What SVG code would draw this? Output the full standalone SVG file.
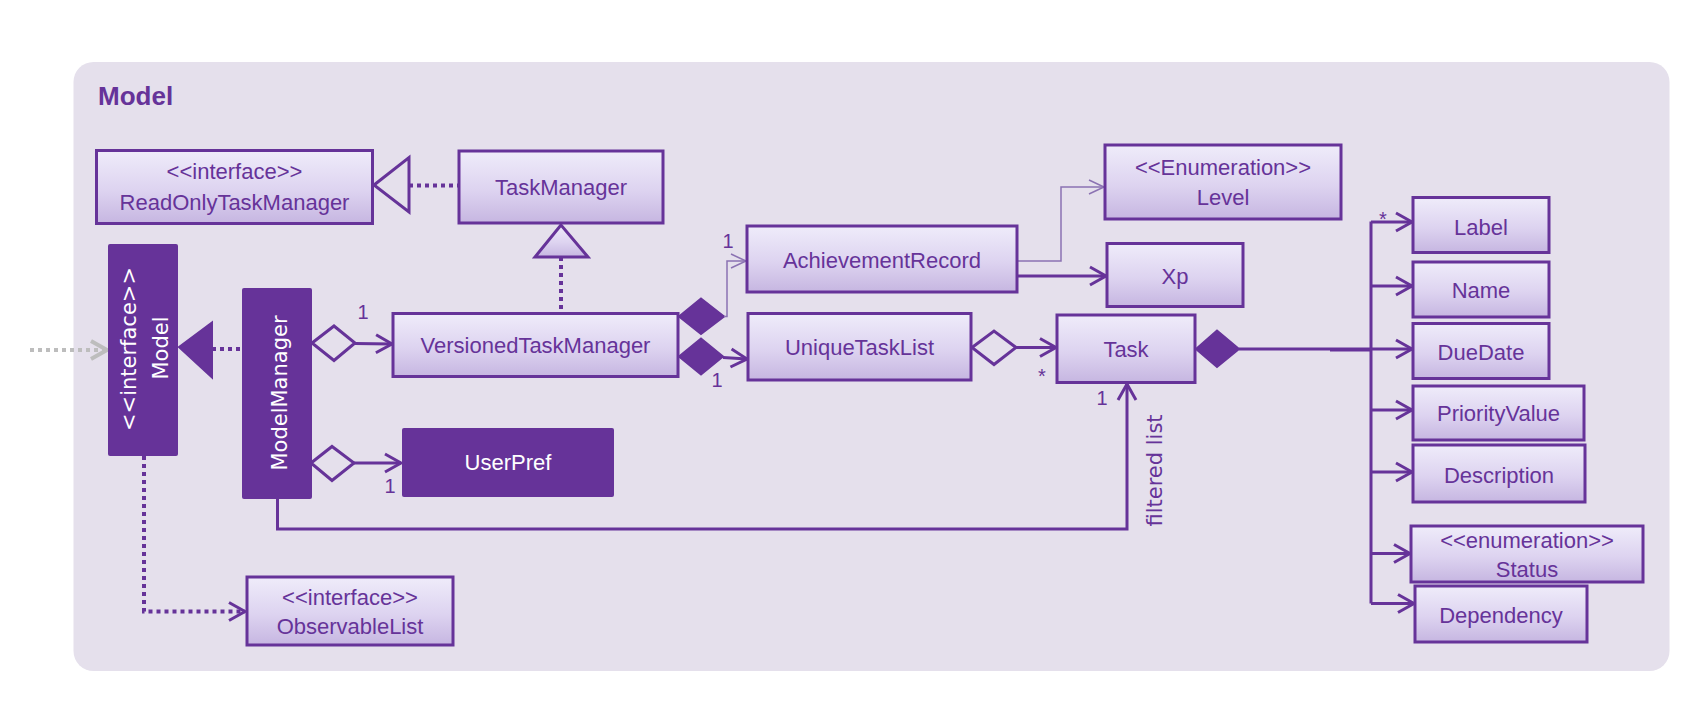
<svg xmlns="http://www.w3.org/2000/svg" width="1692" height="720" viewBox="0 0 1692 720">
<style>
.box{fill:url(#boxg);stroke:#663399;stroke-width:3}
.dark{fill:#663399}
.t{font-family:"Liberation Sans",Arial,sans-serif;font-size:22px;fill:#663399;text-anchor:middle}
.tw{fill:#ffffff}
.rt{font-family:"DejaVu Sans",Verdana,sans-serif;font-size:21px;fill:#ffffff;text-anchor:middle}
.lbl{font-family:"Liberation Sans",Arial,sans-serif;font-size:20px;fill:#663399;text-anchor:middle}
.ln{fill:none;stroke:#663399;stroke-width:3}
.dot{stroke-dasharray:4 4;stroke-width:4}
.thin{stroke:#8B72B2;stroke-width:1.5}
.gray{stroke:#BDBDBD;stroke-dasharray:4 4;stroke-width:4;fill:none}
.fd{fill:#663399;stroke:#663399;stroke-width:2}
.hd{fill:#E5E0EC;stroke:#663399;stroke-width:3}
</style>
<defs>
<linearGradient id="boxg" x1="0" y1="0" x2="0" y2="1">
<stop offset="0" stop-color="#EFECFA"/>
<stop offset="0.55" stop-color="#DDD3F0"/>
<stop offset="1" stop-color="#C6B6E1"/>
</linearGradient>
<marker id="arr" markerUnits="userSpaceOnUse" markerWidth="22" markerHeight="22" refX="17" refY="10" orient="auto" overflow="visible">
<path d="M1,1 L17,10 L1,19" fill="none" stroke="#663399" stroke-width="3"/>
</marker>
<marker id="arrT" markerUnits="userSpaceOnUse" markerWidth="22" markerHeight="22" refX="16" refY="8" orient="auto" overflow="visible">
<path d="M1,1 L16,8 L1,15" fill="none" stroke="#8B72B2" stroke-width="1.5"/>
</marker>
<marker id="arrG" markerUnits="userSpaceOnUse" markerWidth="22" markerHeight="22" refX="17" refY="10" orient="auto" overflow="visible">
<path d="M1,1 L17,10 L1,19" fill="none" stroke="#BDBDBD" stroke-width="4"/>
</marker>
</defs>

<rect x="73.5" y="62" width="1596" height="609" rx="20" fill="#E5E0EC"/>
<text x="98" y="105" font-family="Liberation Sans, Arial, sans-serif" font-size="26" font-weight="bold" fill="#663399">Model</text>

<g id="connectors">
<!-- TaskManager realizes ReadOnlyTaskManager -->
<line class="ln dot" x1="409" y1="185.5" x2="459" y2="185.5"/>
<polygon class="hd" points="374,185 409,157.5 409,212"/>
<!-- VersionedTaskManager extends TaskManager -->
<line class="ln dot" x1="561" y1="257" x2="561" y2="313"/>
<polygon points="561,225 535,257 588,257" fill="url(#boxg)" stroke="#663399" stroke-width="3"/>
<!-- ModelManager realizes Model -->
<line class="ln dot" x1="212" y1="349" x2="242" y2="349"/>
<polygon class="fd" points="179,347 212,322.5 212,377.5"/>
<!-- external gray -->
<line class="gray" x1="30" y1="350" x2="107" y2="350" marker-end="url(#arrG)"/>
<!-- Model to ObservableList -->
<polyline class="ln dot" points="144,456 144,611.5 245,611.5" marker-end="url(#arr)"/>
<!-- ModelManager to VersionedTaskManager -->
<polygon class="hd" points="312,343 334,326 355,343 334,360.5"/>
<line class="ln" x1="355" y1="343.5" x2="392" y2="344" marker-end="url(#arr)"/>
<text class="lbl" x="363" y="319">1</text>
<!-- ModelManager to UserPref -->
<polygon class="hd" points="311,463 332,446.5 354,463 332,480.5"/>
<line class="ln" x1="354" y1="463" x2="401" y2="463" marker-end="url(#arr)"/>
<text class="lbl" x="390" y="493">1</text>
<!-- ModelManager to Task (filtered list) -->
<polyline class="ln" points="277.5,499 277.5,529 1127,529 1127,384" marker-end="url(#arr)"/>
<text class="lbl" x="1102" y="405">1</text>
<text transform="translate(1162,470.5) rotate(-90)" font-family="DejaVu Sans, Verdana, sans-serif" font-size="21" fill="#663399" text-anchor="middle">filtered list</text>
<!-- VersionedTaskManager to AchievementRecord -->
<polygon class="fd" points="679,316.5 701,298.5 724,316.5 701,334"/>
<polyline fill="none" class="thin" points="724,316.5 727,316.5 727,261 746,261" marker-end="url(#arrT)"/>
<text class="lbl" x="728" y="248">1</text>
<!-- VersionedTaskManager to UniqueTaskList -->
<polygon class="fd" points="679,356.5 701,338.5 723,356.5 701,374.5"/>
<line class="ln" x1="723" y1="357.5" x2="747" y2="359" marker-end="url(#arr)"/>
<text class="lbl" x="717" y="387">1</text>
<!-- AchievementRecord to Level -->
<polyline fill="none" class="thin" points="1017,261 1061,261 1061,187 1104,187" marker-end="url(#arrT)"/>
<!-- AchievementRecord to Xp -->
<line class="ln" x1="1017" y1="276" x2="1106" y2="276" marker-end="url(#arr)"/>
<!-- UniqueTaskList to Task -->
<polygon class="hd" points="972,347.5 994,331 1016,347.5 994,364.5"/>
<line class="ln" x1="1016" y1="347.5" x2="1056" y2="347.5" marker-end="url(#arr)"/>
<text class="lbl" x="1042" y="383">*</text>
<!-- Task composition bus -->
<polygon class="fd" points="1196,349 1217,330.5 1239,349 1217,367"/>
<line class="ln" x1="1239" y1="349" x2="1371" y2="349"/>
<line class="ln" x1="1330" y1="350" x2="1371" y2="350" stroke-width="4"/>
<line class="ln" x1="1371" y1="221.5" x2="1371" y2="603.5"/>
<line class="ln" x1="1371" y1="222" x2="1412" y2="222" marker-end="url(#arr)"/>
<text class="lbl" x="1383" y="226">*</text>
<line class="ln" x1="1371" y1="286" x2="1412" y2="286" marker-end="url(#arr)"/>
<line class="ln" x1="1371" y1="349" x2="1412" y2="349" marker-end="url(#arr)"/>
<line class="ln" x1="1371" y1="410" x2="1412" y2="410" marker-end="url(#arr)"/>
<line class="ln" x1="1371" y1="472" x2="1412" y2="472" marker-end="url(#arr)"/>
<line class="ln" x1="1371" y1="553.5" x2="1410" y2="553.5" marker-end="url(#arr)"/>
<line class="ln" x1="1371" y1="603.5" x2="1414" y2="603.5" marker-end="url(#arr)"/>
</g>

<g id="ReadOnlyTaskManager">
<rect class="box" x="96.5" y="150.5" width="276" height="73"/>
<text class="t" x="234.5" y="179">&lt;&lt;interface&gt;&gt;</text>
<text class="t" x="234.5" y="210">ReadOnlyTaskManager</text>
</g>
<g id="TaskManager">
<rect class="box" x="459" y="151" width="204" height="72"/>
<text class="t" x="561" y="195">TaskManager</text>
</g>
<g id="Model">
<rect class="dark" x="108" y="244" width="70" height="212" rx="2"/>
<text class="rt" transform="translate(135.5,349) rotate(-90)">&lt;&lt;interface&gt;&gt;</text>
<text class="rt" transform="translate(167.5,348) rotate(-90)">Model</text>
</g>
<g id="ModelManager">
<rect class="dark" x="242" y="288" width="70" height="211" rx="2"/>
<text class="rt" transform="translate(286.5,393) rotate(-90)">ModelManager</text>
</g>
<g id="VersionedTaskManager">
<rect class="box" x="393" y="313.5" width="285" height="63"/>
<text class="t" x="535.5" y="353">VersionedTaskManager</text>
</g>
<g id="UserPref">
<rect class="dark" x="402" y="428" width="212" height="69" rx="2"/>
<text class="t tw" x="508" y="470">UserPref</text>
</g>
<g id="ObservableList">
<rect class="box" x="247" y="577" width="206" height="68"/>
<text class="t" x="350" y="605">&lt;&lt;interface&gt;&gt;</text>
<text class="t" x="350" y="634">ObservableList</text>
</g>
<g id="AchievementRecord">
<rect class="box" x="747" y="226" width="270" height="66"/>
<text class="t" x="882" y="268">AchievementRecord</text>
</g>
<g id="UniqueTaskList">
<rect class="box" x="748" y="313.5" width="223" height="66.5"/>
<text class="t" x="859.5" y="355">UniqueTaskList</text>
</g>
<g id="Level">
<rect class="box" x="1105" y="145" width="236" height="74"/>
<text class="t" x="1223" y="175">&lt;&lt;Enumeration&gt;&gt;</text>
<text class="t" x="1223" y="205">Level</text>
</g>
<g id="Xp">
<rect class="box" x="1107" y="243.5" width="136" height="63"/>
<text class="t" x="1175" y="284">Xp</text>
</g>
<g id="Task">
<rect class="box" x="1057" y="315" width="138" height="67.5"/>
<text class="t" x="1126" y="357">Task</text>
</g>
<g id="Label">
<rect class="box" x="1413" y="197.5" width="136" height="55"/>
<text class="t" x="1481" y="235">Label</text>
</g>
<g id="Name">
<rect class="box" x="1413" y="262" width="136" height="55"/>
<text class="t" x="1481" y="298">Name</text>
</g>
<g id="DueDate">
<rect class="box" x="1413" y="323.5" width="136" height="55"/>
<text class="t" x="1481" y="360">DueDate</text>
</g>
<g id="PriorityValue">
<rect class="box" x="1413" y="386" width="171" height="54"/>
<text class="t" x="1498.5" y="421">PriorityValue</text>
</g>
<g id="Description">
<rect class="box" x="1413" y="445" width="172" height="57"/>
<text class="t" x="1499" y="483">Description</text>
</g>
<g id="Status">
<rect class="box" x="1411" y="526" width="232" height="56"/>
<text class="t" x="1527" y="548">&lt;&lt;enumeration&gt;&gt;</text>
<text class="t" x="1527" y="577">Status</text>
</g>
<g id="Dependency">
<rect class="box" x="1415" y="586" width="172" height="56"/>
<text class="t" x="1501" y="623">Dependency</text>
</g>
</svg>
